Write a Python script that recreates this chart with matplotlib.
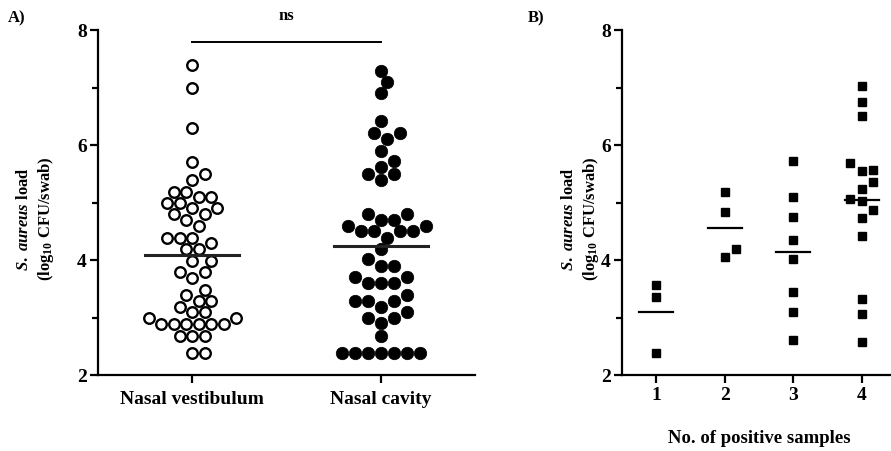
import numpy as np
import matplotlib
matplotlib.use('Agg')
import matplotlib.pyplot as plt
from matplotlib.ticker import MultipleLocator

plt.rcParams['font.family'] = ['Liberation Serif', 'DejaVu Serif']
plt.rcParams['font.weight'] = 'bold'
plt.rcParams['axes.labelweight'] = 'bold'
plt.rcParams['mathtext.fontset'] = 'custom'
plt.rcParams['mathtext.rm'] = 'Liberation Serif:bold'
plt.rcParams['mathtext.it'] = 'Liberation Serif:italic:bold'
plt.rcParams['mathtext.bf'] = 'Liberation Serif:bold'

# Panel A: S. aureus load (log10 CFU/swab) per site
sites = ['Nasal vestibulum', 'Nasal cavity']
vestibulum = [7.40, 6.99, 6.30, 5.70, 5.50, 5.40, 5.19, 5.19, 5.09, 5.09,
              5.00, 5.00, 4.90, 4.90, 4.80, 4.80, 4.70, 4.59, 4.39, 4.39,
              4.39, 4.29, 4.19, 4.19, 3.99, 3.99, 3.79, 3.79, 3.69, 3.48,
              3.40, 3.29, 3.29, 3.19, 3.09, 3.09, 2.99, 2.99, 2.89, 2.89,
              2.89, 2.89, 2.89, 2.89, 2.68, 2.68, 2.68, 2.38, 2.38]
cavity = [7.29, 7.09, 6.90, 6.41, 6.21, 6.21, 6.10, 5.90, 5.72, 5.62,
          5.50, 5.49, 5.40, 4.80, 4.80, 4.70, 4.70, 4.60, 4.60, 4.50,
          4.50, 4.50, 4.50, 4.39, 4.19, 4.02, 3.90, 3.90, 3.71, 3.71,
          3.60, 3.60, 3.60, 3.39, 3.29, 3.29, 3.29, 3.19, 3.10, 2.99,
          2.99, 2.90, 2.68, 2.39, 2.39, 2.39, 2.39, 2.39, 2.39, 2.39]
sig_label = 'ns'

# Panel B: load by number of positive samples
n_pos = [1, 2, 3, 4]
load_by_n = [
    [3.57, 3.35, 2.39],
    [5.18, 4.83, 4.19, 4.05],
    [5.73, 5.09, 4.74, 4.35, 4.02, 3.44, 3.10, 2.61],
    [7.03, 6.74, 6.50, 5.69, 5.57, 5.55, 5.36, 5.23, 5.06, 5.03,
     4.87, 4.73, 4.42, 3.32, 3.06, 2.57],
]

ylabel = '$\\mathit{S.\\ aureus}$ load\n(log$_{10}$ CFU/swab)'


def swarm(vals, d, xscale, yscale):
    # simple beeswarm: offsets (data units) so markers of diameter d px don't overlap
    vals = np.asarray(vals, float)
    offs = np.zeros(len(vals))
    placed = []
    steps = [0]
    for k in range(1, 30):
        steps += [k * 0.5, -k * 0.5]
    for i in np.argsort(vals, kind='stable'):
        y = vals[i] * yscale
        for s in steps:
            x = s * d
            if all((x - px) ** 2 + (y - py) ** 2 >= (0.97 * d) ** 2 for px, py in placed):
                break
        placed.append((x, y))
        offs[i] = x / xscale
    return offs


W, H = 891, 452
fig = plt.figure(figsize=(W / 100, H / 100), dpi=100)

axA = fig.add_axes([98 / W, 76 / H, 377 / W, 345 / H])
axB = fig.add_axes([622 / W, 76 / H, 274 / W, 345 / H])

for ax in (axA, axB):
    ax.spines['top'].set_visible(False)
    ax.spines['right'].set_visible(False)
    ax.spines['left'].set_linewidth(1.6)
    ax.spines['bottom'].set_linewidth(1.6)
    ax.set_ylim(2, 8)
    ax.yaxis.set_major_locator(MultipleLocator(2))
    ax.yaxis.set_minor_locator(MultipleLocator(1))
    ax.tick_params(axis='both', which='major', length=6, width=1.6, labelsize=14, pad=2)
    ax.tick_params(axis='y', which='minor', length=4, width=1.6)
    ax.set_ylabel(ylabel, fontsize=12, linespacing=1.25, fontweight='bold')

# panel A
px_per_x = 377 / 2.0
px_per_y = 345 / 6.0
axA.set_xlim(-0.5, 1.5)
styles = [dict(mfc='white', mec='black', mew=1.7, ms=7.6),
          dict(mfc='black', mec='black', mew=0.5, ms=9.0)]
for i, (vals, st) in enumerate(zip([vestibulum, cavity], styles)):
    xo = swarm(vals, 12.5 if i == 0 else 13.0, px_per_x, px_per_y)
    axA.plot(i + xo, vals, 'o', linestyle='none', zorder=3, **st)
    axA.plot([i - 0.25, i + 0.25], [np.mean(vals)] * 2, color='#222222', lw=2.2, zorder=4)
axA.set_xticks([0, 1])
axA.set_xticklabels(sites)
axA.tick_params(axis='x', pad=5)
axA.yaxis.set_label_coords(-0.112, 0.455)

# significance bracket
axA.plot([0, 1], [7.79, 7.79], color='black', lw=1.4, clip_on=False)
axA.text(0.5, 8.26, sig_label, ha='center', va='center', fontsize=12, fontweight='bold')

# panel B
px_per_xb = 274 / 4.0
axB.set_xlim(0.5, 4.5)
for n, vals in zip(n_pos, load_by_n):
    xo = swarm(vals, 11.5, px_per_xb, px_per_y)
    axB.plot(n + xo, vals, 's', color='black', ms=6.3, linestyle='none', zorder=3)
    axB.plot([n - 0.25, n + 0.25], [np.mean(vals)] * 2, color='black', lw=1.6, zorder=4)
axB.set_xticks(n_pos)
axB.set_xlabel('No. of positive samples', fontsize=13.5, labelpad=19, fontweight='bold')
axB.yaxis.set_label_coords(-0.077, 0.455)

fig.text(8 / W, 1 - 18 / H, 'A)', fontsize=12, fontweight='bold', va='center')
fig.text(528 / W, 1 - 18 / H, 'B)', fontsize=12, fontweight='bold', va='center')

fig.savefig('out.png', dpi=100)
